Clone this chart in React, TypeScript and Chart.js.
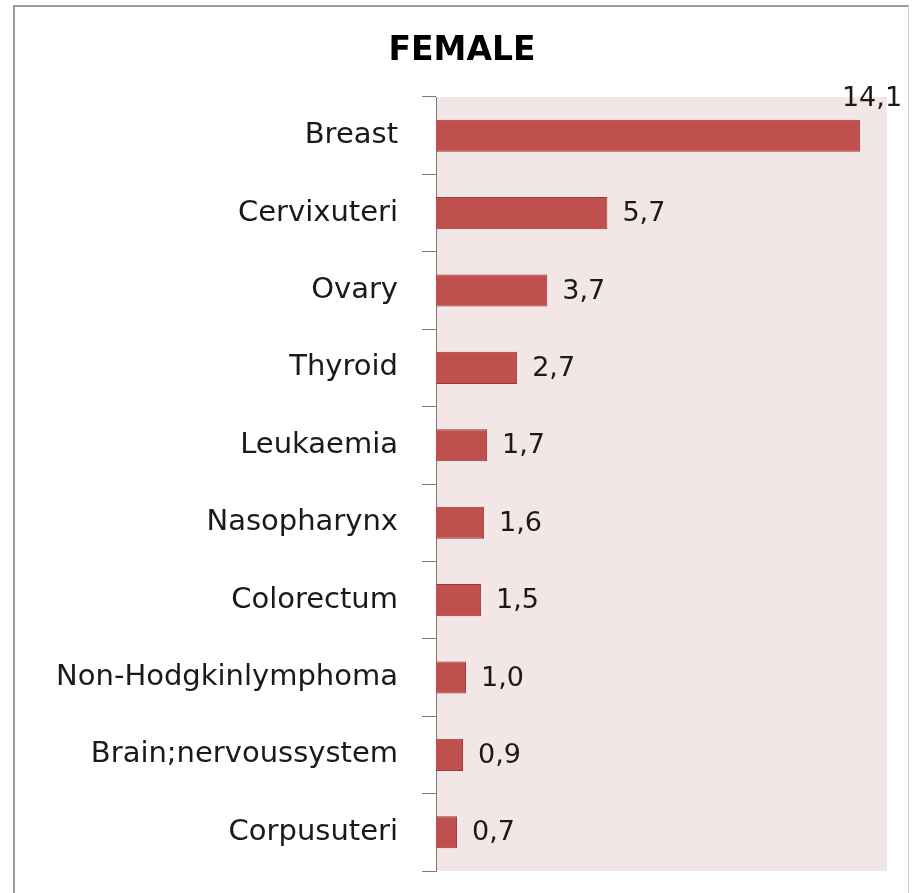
import React, { useEffect, useRef } from "react";
import { Chart, registerables } from "chart.js";

Chart.register(...registerables);

const chartTitle = "FEMALE";
const categories = [
  "Breast",
  "Cervixuteri",
  "Ovary",
  "Thyroid",
  "Leukaemia",
  "Nasopharynx",
  "Colorectum",
  "Non-Hodgkinlymphoma",
  "Brain;nervoussystem",
  "Corpusuteri",
];
const values = [14.1, 5.7, 3.7, 2.7, 1.7, 1.6, 1.5, 1.0, 0.9, 0.7];
const xMin = 0;
const xMax = 15;

const FONT = "'DejaVu Sans', sans-serif";

const bgPlugin = {
  id: "plotBg",
  beforeDraw(chart: any) {
    const { ctx, chartArea } = chart;
    ctx.save();
    ctx.fillStyle = "#F2E6E6";
    ctx.fillRect(chartArea.left, chartArea.top, chartArea.right - chartArea.left, chartArea.bottom - chartArea.top);
    ctx.restore();
  },
};

const titlePlugin = {
  id: "customTitle",
  afterDraw(chart: any) {
    const { ctx } = chart;
    ctx.save();
    ctx.font = `bold 33px ${FONT}`;
    ctx.fillStyle = "#000000";
    ctx.textAlign = "center";
    ctx.textBaseline = "alphabetic";
    ctx.fillText(chartTitle, 462, 60);
    ctx.restore();
  },
};

const labelPlugin = {
  id: "valueLabels",
  afterDatasetsDraw(chart: any) {
    const { ctx, chartArea } = chart;
    const meta = chart.getDatasetMeta(0);
    ctx.save();
    ctx.font = `27px ${FONT}`;
    ctx.fillStyle = "#1a1a1a";
    meta.data.forEach((bar: any, i: number) => {
      const text = values[i].toFixed(1).replace(".", ",");
      const w = ctx.measureText(text).width;
      const h = bar.height;
      if (bar.x + 15 + w > chartArea.right) {
        ctx.textAlign = "left";
        ctx.textBaseline = "alphabetic";
        ctx.fillText(text, bar.x - 18, bar.y - h / 2 - 14);
      } else {
        ctx.textAlign = "left";
        ctx.textBaseline = "middle";
        ctx.fillText(text, bar.x + 15, bar.y + 1);
      }
    });
    ctx.restore();
  },
};

export default function App() {
  const ref = useRef<HTMLCanvasElement | null>(null);

  useEffect(() => {
    if (!ref.current) return;
    const chart = new Chart(ref.current, {
      type: "bar",
      data: {
        labels: categories,
        datasets: [
          {
            data: values,
            backgroundColor: "#C0504D",
            borderColor: "#943B39",
            borderWidth: 1,
            barPercentage: 0.415,
            categoryPercentage: 1,
          },
        ],
      },
      options: {
        indexAxis: "y",
        responsive: false,
        animation: false,
        layout: { padding: { top: 97, bottom: 22, right: 25, left: 0 } },
        plugins: {
          legend: { display: false },
          title: { display: false },
          tooltip: { enabled: false },
        },
        scales: {
          x: {
            display: false,
            min: xMin,
            max: xMax,
          },
          y: {
            type: "category",
            afterFit(scale: any) {
              scale.width = 436;
              scale.paddingTop = 0;
              scale.paddingBottom = 0;
            },
            grid: {
              offset: true,
              drawOnChartArea: false,
              drawTicks: true,
              tickLength: 14,
              color: "#7a7a7a",
              lineWidth: 1,
            },
            border: { display: true, color: "#7a7a7a", width: 1 },
            ticks: {
              padding: 24,
              color: "#1a1a1a",
              font: { family: FONT, size: 29 },
            },
          },
        },
      },
      plugins: [bgPlugin, labelPlugin, titlePlugin],
    });
    return () => chart.destroy();
  }, []);

  return (
    <div style={{ position: "absolute", left: 0, top: 0, width: 912, height: 893, overflow: "hidden", background: "#fff" }}>
      <div
        style={{
          position: "absolute",
          left: 13,
          top: 5,
          width: 896,
          height: 888,
          borderTop: "2px solid #9a9a9a",
          borderLeft: "2px solid #9a9a9a",
          borderRight: "1px solid #d0d0d0",
          boxSizing: "border-box",
        }}
      />
      <canvas ref={ref} width={912} height={893} style={{ position: "absolute", left: 0, top: 0, width: 912, height: 893 }} />
    </div>
  );
}
